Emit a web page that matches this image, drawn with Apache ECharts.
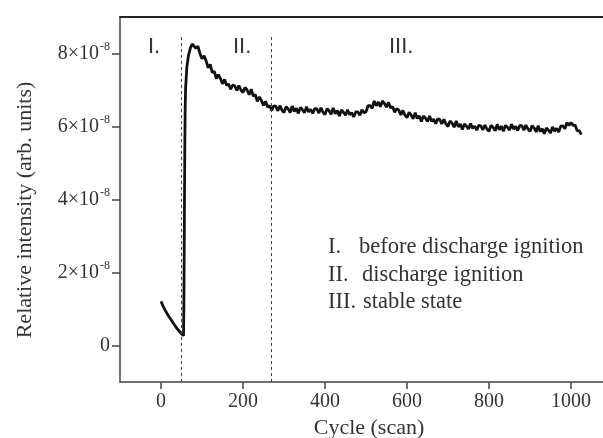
<!DOCTYPE html>
<html>
<head>
<meta charset="utf-8">
<script src="https://cdn.jsdelivr.net/npm/echarts@6/dist/echarts.min.js"></script>
<style>html,body{margin:0;padding:0;background:#fff}#c{width:603px;height:438px}</style>
</head>
<body>
<div id="c"></div>
<script>
// ---- data (intensity in units of 1e-8, arb. units) ----
const xTicks = [0, 200, 400, 600, 800, 1000];
const yTicks = [0, 2, 4, 6, 8];
const dividers = [50, 270];
const regionLabels = ['I.', 'II.', 'III.'];
const legendNumerals = ['I.', 'II.', 'III.'];
const legendTexts = ['before discharge ignition', 'discharge ignition', 'stable state'];

// before ignition + ignition rise
const headCycles = [0, 5, 10, 15, 20, 25, 30, 35, 40, 45, 50, 55, 56, 57, 58, 59, 60, 63, 67, 72, 76];
const headValues = [1.21, 1.08, 0.97, 0.87, 0.78, 0.70, 0.61, 0.53, 0.45, 0.39, 0.32, 0.27, 1.4, 3.4, 5.4, 6.5, 7.05, 7.62, 7.95, 8.16, 8.26];

// from cycle 80 onwards, sampled every 5 cycles
const tailStart = 80, tailStep = 5;
const tailValues = [
  8.28, 8.14, 8.20, 8.00, 7.86, 7.94, 7.80, 7.61, 7.70, 7.48,
  7.51, 7.31, 7.42, 7.31, 7.17, 7.29, 7.13, 7.16, 7.02, 7.14,
  7.11, 6.99, 7.12, 7.00, 6.93, 7.07, 7.00, 6.87, 7.02, 6.83,
  6.87, 6.69, 6.81, 6.71, 6.58, 6.69, 6.53, 6.57, 6.44, 6.57,
  6.55, 6.43, 6.57, 6.45, 6.38, 6.54, 6.49, 6.38, 6.56, 6.41,
  6.50, 6.36, 6.52, 6.46, 6.38, 6.54, 6.40, 6.47, 6.36, 6.49,
  6.48, 6.37, 6.51, 6.39, 6.33, 6.49, 6.43, 6.33, 6.51, 6.35,
  6.44, 6.29, 6.45, 6.39, 6.31, 6.46, 6.32, 6.38, 6.26, 6.40,
  6.40, 6.31, 6.46, 6.38, 6.40, 6.57, 6.57, 6.50, 6.70, 6.57,
  6.67, 6.54, 6.70, 6.63, 6.53, 6.66, 6.51, 6.54, 6.39, 6.49,
  6.45, 6.32, 6.44, 6.31, 6.24, 6.39, 6.32, 6.21, 6.38, 6.22,
  6.29, 6.14, 6.29, 6.23, 6.14, 6.29, 6.14, 6.20, 6.08, 6.21,
  6.19, 6.07, 6.20, 6.07, 6.00, 6.15, 6.09, 5.98, 6.15, 5.99,
  6.07, 5.92, 6.07, 6.01, 5.93, 6.08, 5.95, 6.01, 5.90, 6.03,
  6.02, 5.91, 6.04, 5.93, 5.87, 6.03, 5.98, 5.88, 6.06, 5.91,
  6.01, 5.87, 6.03, 5.98, 5.90, 6.06, 5.93, 6.00, 5.89, 6.03,
  6.02, 5.90, 6.04, 5.93, 5.87, 6.02, 5.96, 5.85, 6.02, 5.86,
  5.94, 5.80, 5.96, 5.90, 5.82, 5.99, 5.87, 5.95, 5.85, 6.01,
  6.02, 5.94, 6.11, 6.03, 6.11, 6.03, 6.04, 5.88, 5.89, 5.78
];

// ---- build series data ----
const seriesData = headCycles.map((c, i) => [c, headValues[i]]);
tailValues.forEach((v, i) => seriesData.push([tailStart + i * tailStep, v]));

const serif = '"Liberation Serif", "Times New Roman", serif';
const sans = '"Liberation Sans", Arial, sans-serif';
const ink = '#333';

const chart = echarts.init(document.getElementById('c'), null, {renderer: 'canvas'});
chart.setOption({
  animation: false,
  backgroundColor: '#fff',
  grid: {left: 120, right: 0, top: 17, bottom: 56},
  xAxis: [{
    type: 'value', min: -100, max: 1078, position: 'bottom',
    splitLine: {show: false},
    axisLine: {show: true, onZero: false, lineStyle: {color: '#444', width: 1.5}},
    axisTick: {show: true, inside: false, length: 7, customValues: xTicks, lineStyle: {color: '#444', width: 1.5}},
    axisLabel: {customValues: xTicks, formatter: v => String(v), fontFamily: serif, fontSize: 20, color: ink, margin: 10}
  }, {
    type: 'value', min: -100, max: 1078, position: 'top',
    splitLine: {show: false},
    axisLine: {show: true, onZero: false, lineStyle: {color: '#222', width: 2}},
    axisTick: {show: false}, axisLabel: {show: false}
  }],
  yAxis: {
    type: 'value', min: -1, max: 9,
    splitLine: {show: false},
    axisLine: {show: true, onZero: false, lineStyle: {color: '#444', width: 1.5}},
    axisTick: {show: true, inside: false, length: 8, customValues: yTicks, lineStyle: {color: '#444', width: 1.5}},
    axisLabel: {
      customValues: yTicks, margin: 10,
      formatter: v => v === 0 ? '{m|0}' : '{m|' + v + '×10}{s|-8}',
      rich: {
        m: {fontFamily: serif, fontSize: 20, color: ink},
        s: {fontFamily: serif, fontSize: 12, color: ink, verticalAlign: 'top', padding: [0, 0, 14, 1]}
      }
    }
  },
  series: [{
    type: 'line', data: seriesData, showSymbol: false, symbol: 'none',
    lineStyle: {color: '#111', width: 2.8}, z: 3,
    markLine: {
      silent: true, symbol: 'none', label: {show: false},
      lineStyle: {color: '#444', width: 1, type: [3, 3]},
      data: dividers.map(d => [{coord: [d, -1]}, {coord: [d, 8.5]}])
    }
  }],
  graphic: [
    {type: 'text', x: 148, y: 47, style: {text: regionLabels[0], font: '22px ' + sans, fill: ink, verticalAlign: 'middle'}},
    {type: 'text', x: 233, y: 47, style: {text: regionLabels[1], font: '22px ' + sans, fill: ink, verticalAlign: 'middle'}},
    {type: 'text', x: 389, y: 47, style: {text: regionLabels[2], font: '22px ' + sans, fill: ink, verticalAlign: 'middle'}},
    {type: 'text', x: 328, y: 247, style: {text: legendNumerals[0], font: '22.5px ' + serif, fill: ink, verticalAlign: 'middle'}},
    {type: 'text', x: 359, y: 247, style: {text: legendTexts[0], font: '22.5px ' + serif, fill: ink, verticalAlign: 'middle'}},
    {type: 'text', x: 328, y: 275, style: {text: legendNumerals[1], font: '22.5px ' + serif, fill: ink, verticalAlign: 'middle'}},
    {type: 'text', x: 362, y: 275, style: {text: legendTexts[1], font: '22.5px ' + serif, fill: ink, verticalAlign: 'middle'}},
    {type: 'text', x: 328, y: 302, style: {text: legendNumerals[2], font: '22.5px ' + serif, fill: ink, verticalAlign: 'middle'}},
    {type: 'text', x: 363, y: 302, style: {text: legendTexts[2], font: '22.5px ' + serif, fill: ink, verticalAlign: 'middle'}},
    {type: 'text', x: 369, y: 428, style: {text: 'Cycle (scan)', font: '22px ' + serif, fill: ink, align: 'center', verticalAlign: 'middle'}},
    {type: 'text', x: 25, y: 210, rotation: Math.PI / 2, style: {text: 'Relative intensity (arb. units)', font: '22px ' + serif, fill: ink, align: 'center', verticalAlign: 'middle'}}
  ]
});
</script>
</body>
</html>
